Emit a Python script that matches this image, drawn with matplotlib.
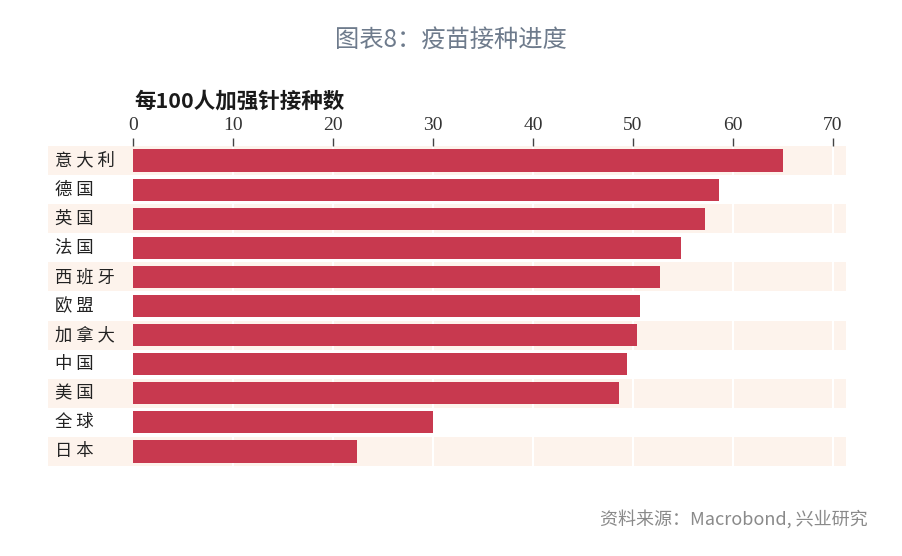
import matplotlib
matplotlib.use("Agg")
import matplotlib.pyplot as plt
import numpy as np

plt.rcParams['font.family'] = ['Noto Sans CJK SC', 'DejaVu Sans']

categories = ["意大利", "德国", "英国", "法国", "西班牙", "欧盟", "加拿大", "中国", "美国", "全球", "日本"]
values = [65.0, 58.6, 57.2, 54.8, 52.7, 50.7, 50.4, 49.4, 48.6, 30.0, 22.4]
xticks = [0, 10, 20, 30, 40, 50, 60, 70]

title = "图表8：疫苗接种进度"
axis_title = "每100人加强针接种数"
source = "资料来源：Macrobond, 兴业研究"

W, H = 902, 556
fig = plt.figure(figsize=(W / 100, H / 100), dpi=100)
ax = fig.add_axes([48 / W, 1 - 466 / H, (846 - 48) / W, (466 - 146) / H])

xmin, xmax = -8.5, 71.3
ax.set_xlim(xmin, xmax)
ax.set_ylim(len(categories) - 0.5, -0.5)

band_color = "#fdf3ec"
bar_color = "#c8394f"
y = np.arange(len(categories))

for i in y:
    if i % 2 == 0:
        ax.axhspan(i - 0.5, i + 0.5, color=band_color, zorder=0, lw=0)
for t in xticks[1:]:
    ax.axvline(t, color="white", lw=1.5, zorder=1)

ax.barh(y, values, height=0.76, color=bar_color, zorder=2, left=0)

for i, c in enumerate(categories):
    ax.text(-7.8, i, " ".join(c), ha="left", va="center", fontsize=12.5,
            color="#222222")

for s in ax.spines.values():
    s.set_visible(False)
ax.set_yticks([])
ax.xaxis.tick_top()
ax.set_xticks(xticks)
ax.set_xticklabels([str(t) for t in xticks], fontsize=14,
                   family=["Liberation Serif", "DejaVu Serif"], color="#333333")
ax.tick_params(axis="x", length=6, width=1, color="#444444", pad=3, direction="out")

fig.text(134 / W, 1 - 101 / H, axis_title, ha="left", va="center",
         fontsize=15.5, color="#1a1a1a", fontweight="semibold")
fig.text(451 / W, 1 - 40 / H, title, ha="center", va="center",
         fontsize=17.5, color="#6e7b8c", fontweight="medium")
fig.text(868 / W, 1 - 519 / H, source, ha="right", va="center",
         fontsize=13, color="#8a8a8a")

fig.savefig("out.png", dpi=100)
